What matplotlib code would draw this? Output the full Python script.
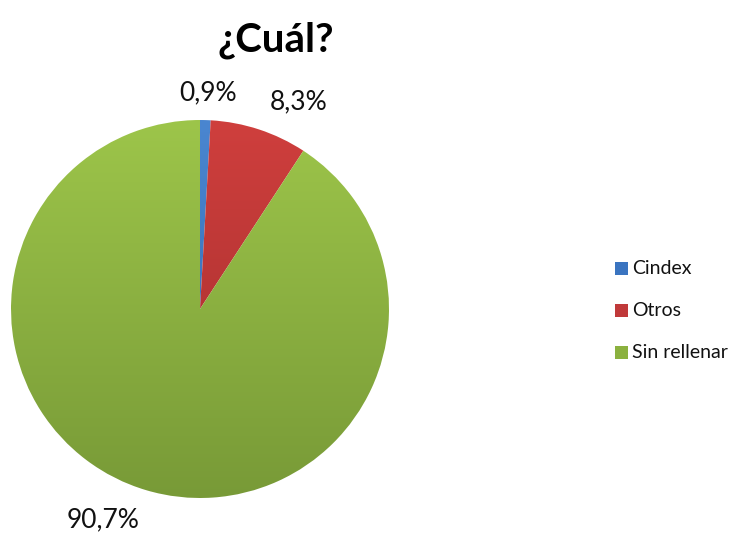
import matplotlib.pyplot as plt
import numpy as np
from matplotlib.colors import LinearSegmentedColormap
from matplotlib.patches import Rectangle

categorias = ["Cindex", "Otros", "Sin rellenar"]
valores = [0.9, 8.3, 90.7]
etiquetas = ["0,9%", "8,3%", "90,7%"]

# colores: arriba claro, abajo oscuro (degradado estilo Excel)
col_top = ["#4A86D0", "#CF3F3D", "#9DC54A"]
col_bot = ["#2F65AE", "#A02C2C", "#789A37"]
col_leg = ["#3A74C0", "#C0393A", "#8BB13F"]

W, H = 731, 533
fig = plt.figure(figsize=(W / 100, H / 100), dpi=100)
ax = fig.add_axes([0, 0, 1, 1])

cx, cy, r = 200, H - 309, 189

wedges, _ = ax.pie(valores, startangle=90, counterclock=False,
                   center=(cx, cy), radius=r, frame=True,
                   wedgeprops=dict(linewidth=0))
ax.set_xlim(0, W)
ax.set_ylim(0, H)
ax.set_aspect("equal")
ax.axis("off")

grad = np.linspace(0, 1, 256).reshape(-1, 1)
for w, ct, cb in zip(wedges, col_top, col_bot):
    w.set_facecolor("none")
    cmap = LinearSegmentedColormap.from_list("g", [cb, ct])
    im = ax.imshow(grad, cmap=cmap, origin="lower", aspect="auto",
                   extent=(cx - r, cx + r, cy - r, cy + r), zorder=1)
    im.set_clip_path(w)

pos_etiq = [(208, H - 93), (299, H - 102), (103, H - 520)]
for txt, (x, y) in zip(etiquetas, pos_etiq):
    ax.text(x, y, txt, ha="center", va="center", fontsize=19,
            family="Lato", color="#111111")

ax.text(276, H - 40, "¿Cuál?", ha="center", va="center", fontsize=29,
        fontweight="bold", family="Lato", color="#000000")

leg_y = [268, 310, 352]
for nombre, c, y in zip(categorias, col_leg, leg_y):
    ax.add_patch(Rectangle((615, H - y - 6.5), 13, 13, facecolor=c,
                           edgecolor="none"))
    ax.text(632, H - y, nombre, ha="left", va="center", fontsize=14,
            family="Lato", color="#111111")

fig.savefig("out.png", dpi=100)
